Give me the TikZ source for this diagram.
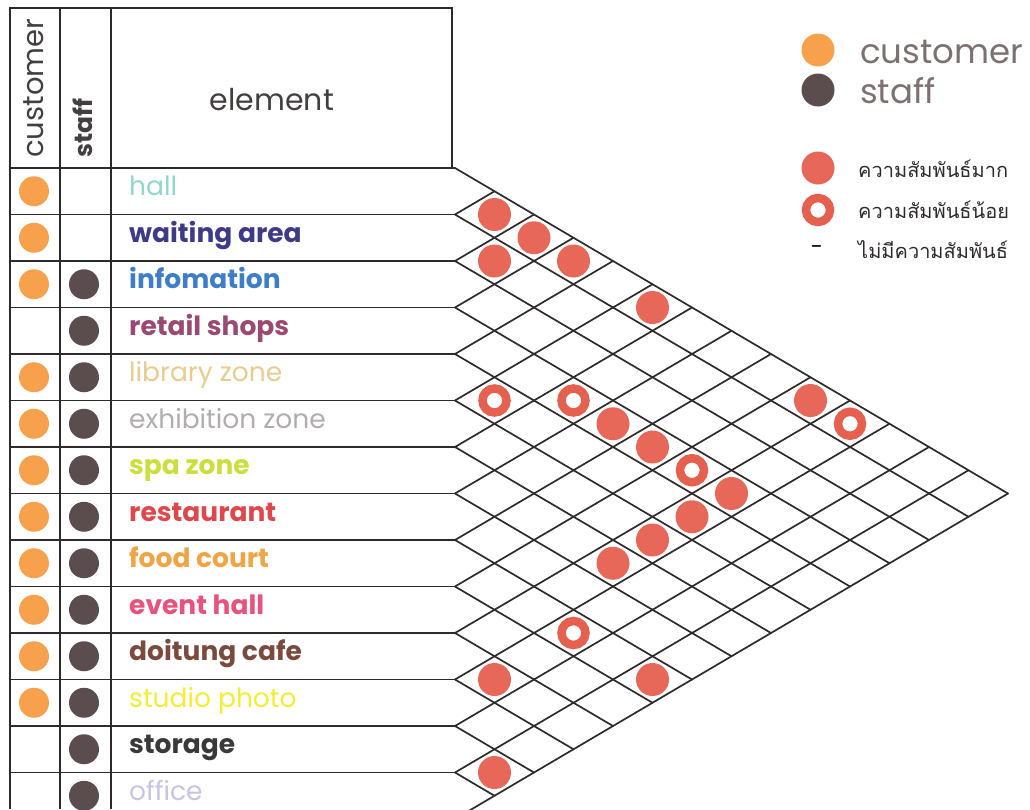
\documentclass[tikz,border=0pt]{standalone}
\usepackage{fontspec}
\setmainfont{Poppins}
\newfontfamily\thaifont[Script=Thai]{Loma}
\definecolor{cust}{HTML}{F7A14C}
\definecolor{stf}{HTML}{5B4C4E}
\definecolor{rel}{HTML}{E6604F}
\definecolor{ink}{HTML}{2E2A2A}
\definecolor{cHall}{HTML}{8ED6D2}
\definecolor{cWait}{HTML}{3D3A88}
\definecolor{cInfo}{HTML}{3E7DCA}
\definecolor{cRetail}{HTML}{9A4A72}
\definecolor{cLib}{HTML}{E9CB8E}
\definecolor{cExh}{HTML}{B2ACAC}
\definecolor{cSpa}{HTML}{C9E03C}
\definecolor{cRest}{HTML}{E0474B}
\definecolor{cFood}{HTML}{F0A443}
\definecolor{cEvent}{HTML}{E8527C}
\definecolor{cCafe}{HTML}{7A4A3C}
\definecolor{cStudio}{HTML}{F2EE32}
\definecolor{cStore}{HTML}{3A3838}
\definecolor{cOffice}{HTML}{C9C2E2}
\begin{document}
\begin{tikzpicture}[x=1pt,y=-1pt,
  tableline/.style={draw=ink,line width=1.7pt},
  gridline/.style={draw=ink,line width=1.7pt,line cap=round},
  dotc/.style={circle,fill=cust,inner sep=0pt,minimum size=30pt},
  dots/.style={circle,fill=stf,inner sep=0pt,minimum size=30pt},
  strong/.style={circle,fill=rel,fill opacity=0.95,inner sep=0pt,minimum size=33pt},
  weak/.style={circle,draw=rel,line width=8.5pt,inner sep=0pt,minimum size=24pt},
  lbl/.style={anchor=mid west,inner sep=0pt,font=\fontsize{26.5}{30}\selectfont}]
\useasboundingbox (0,0) rectangle (1030,809);
\clip (0,0) rectangle (1030,809);

% table frame
\draw[tableline] (10,8) rectangle (452,168);
\draw[tableline] (10,8) -- (10,809);
\draw[tableline] (60,8) -- (60,809);
\draw[tableline] (111,8) -- (111,809);

% header texts
\node[rotate=90,anchor=base west,inner sep=0pt,text=ink!90,font=\fontsize{29}{32}\selectfont] (hcust) at (43,158) {customer};
\node[rotate=90,anchor=base west,inner sep=0pt,text=ink!90,font=\fontsize{25}{28}\selectfont\bfseries] (hstaff) at (92,158) {staff};
\node[text=ink!90,font=\fontsize{30}{34}\selectfont] (helem) at (272,100) {element};

% row boundaries and lattice start points
\foreach \k in {0,...,14}{
  \coordinate (L\k) at (455,{168+46.5*\k});
  \draw[tableline] (10,{168+46.5*\k}) -- (L\k);
}

% diagonal lattice
\foreach \k in {0,...,14}{
  \draw[gridline] (L\k) -- ({455+(14-\k)*39.5},{(168+46.5*\k+819)/2});
  \draw[gridline] (L\k) -- ({455+\k*39.5},{(336+46.5*\k)/2});
}

% element labels
\foreach \t/\c/\w [count=\k from 0] in {
  hall/cHall/\mdseries, waiting area/cWait/\bfseries, infomation/cInfo/\bfseries,
  retail shops/cRetail/\bfseries, library zone/cLib/\mdseries,
  exhibition zone/cExh/\mdseries, spa zone/cSpa/\bfseries,
  restaurant/cRest/\bfseries, food court/cFood/\bfseries,
  event hall/cEvent/\bfseries, doitung cafe/cCafe/\bfseries,
  studio photo/cStudio/\mdseries, storage/cStore/\bfseries, office/cOffice/\mdseries}{
  \node[lbl,text=\c] (lab\k) at (129,{168+46.5*\k+25}) {\w\t};
}

% user columns
\foreach \k in {0,1,2,4,5,6,7,8,9,10,11}{
  \node[dotc] (cu\k) at (34,{168+46.5*\k+23.25}) {};
}
\foreach \k in {2,...,13}{
  \node[dots] (st\k) at (84,{168+46.5*\k+23.25}) {};
}

% relationship marks
\foreach \i/\j in {0/1,0/2,1/2,0/3,0/5,0/9,3/7,3/8,3/10,4/10,5/10,6/10,8/13,10/11,12/13}{
  \node[strong] (m\i-\j) at ({455+39.5*(\j-\i)},{168+23.25*(\i+\j+1)}) {};
}
\foreach \i/\j in {4/5,3/6,3/9,0/10,8/11}{
  \node[weak] (m\i-\j) at ({455+39.5*(\j-\i)},{168+23.25*(\i+\j+1)}) {};
}

% legend
\node[dotc,minimum size=33pt] (kcust) at (818,50) {};
\node[dots,minimum size=33pt] (kstaff) at (818,90) {};
\node[anchor=base west,inner sep=0pt,text=stf!80,font=\fontsize{34}{36}\selectfont] (tcust) at (860,63) {customer};
\node[anchor=base west,inner sep=0pt,text=stf!80,font=\fontsize{34}{36}\selectfont] (tstaff) at (860,103) {staff};
\node[strong] (kstrong) at (818,168) {};
\node[weak] (kweak) at (818,210) {};
\node[inner sep=0pt,font=\fontsize{22}{24}\selectfont] (knone) at (817,250) {-};
\node[anchor=base west,inner sep=0pt,text=ink,font=\thaifont\fontsize{20}{24}\selectfont] (tstrong) at (858,177) {ความสัมพันธ์มาก};
\node[anchor=base west,inner sep=0pt,text=ink,font=\thaifont\fontsize{20}{24}\selectfont] (tweak) at (858,218) {ความสัมพันธ์น้อย};
\node[anchor=base west,inner sep=0pt,text=ink,font=\thaifont\fontsize{20}{24}\selectfont] (tnone) at (858,258) {ไม่มีความสัมพันธ์};
\end{tikzpicture}
\end{document}
